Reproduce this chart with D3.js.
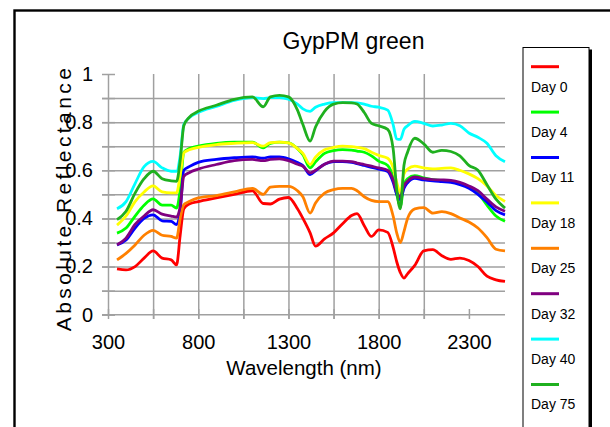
<!DOCTYPE html>
<html>
<head>
<meta charset="utf-8">
<script src="https://cdn.jsdelivr.net/npm/d3@7"></script>
<style>
  body { margin: 0; background: #fff; }
  svg { display: block; font-family: "Liberation Sans", Arial, sans-serif; }
</style>
</head>
<body>
<svg id="chart" width="610" height="427"></svg>
<script>
// Wavelengths (nm) shared by all series
var wavelengths = [350, 400, 450, 500, 550, 600, 650, 680, 700, 720,
    750, 800, 900, 1000, 1100, 1160, 1200, 1250, 1300, 1350,
    1380, 1420, 1450, 1500, 1550, 1600, 1650, 1680, 1720, 1760,
    1800, 1850, 1880, 1900, 1920, 1940, 1960, 2000, 2050, 2100,
    2150, 2200, 2250, 2300, 2350, 2400, 2450, 2500];

// Reflectance
var day0 = [.19, .186, .20, .235, .265, .235, .228, .207, .33, .44,
    .46, .47, .485, .50, .515, .462, .46, .48, .487, .44,
    .40, .34, .285, .315, .34, .378, .412, .42, .37, .325,
    .352, .342, .28, .22, .175, .152, .17, .205, .265, .27,
    .245, .23, .235, .225, .20, .16, .145, .138];
var day4 = [.339, .36, .41, .455, .481, .455, .455, .443, .52, .675,
    .69, .70, .712, .717, .717, .693, .712, .717, .714, .69,
    .665, .61, .635, .67, .682, .686, .684, .68, .675, .66,
    .638, .62, .57, .50, .45, .54, .565, .578, .568, .561,
    .558, .554, .545, .53, .505, .455, .41, .388];
var day11 = [.29, .31, .36, .40, .415, .39, .388, .374, .43, .60,
    .615, .633, .645, .652, .656, .65, .656, .656, .648, .632,
    .62, .582, .598, .625, .636, .636, .633, .628, .62, .612,
    .605, .595, .55, .50, .478, .525, .548, .566, .56, .556,
    .553, .55, .54, .525, .50, .468, .432, .415];
var day18 = [.372, .41, .47, .51, .535, .51, .506, .506, .58, .672,
    .685, .695, .707, .712, .715, .70, .715, .717, .714, .69,
    .67, .624, .655, .685, .695, .70, .698, .695, .69, .675,
    .662, .65, .61, .55, .506, .585, .605, .617, .61, .606,
    .608, .61, .60, .585, .565, .535, .495, .47];
var day25 = [.228, .255, .29, .33, .35, .33, .325, .318, .40, .457,
    .47, .485, .495, .51, .525, .50, .53, .533, .533, .515,
    .49, .422, .464, .505, .52, .525, .525, .515, .49, .475,
    .47, .47, .41, .34, .30, .345, .40, .44, .445, .422,
    .428, .42, .402, .385, .36, .32, .272, .265];
var day32 = [.29, .318, .375, .41, .436, .418, .41, .406, .45, .575,
    .59, .605, .624, .64, .645, .64, .645, .647, .64, .625,
    .617, .589, .60, .625, .638, .638, .636, .63, .624, .617,
    .61, .60, .56, .51, .49, .535, .555, .572, .565, .561,
    .56, .558, .55, .535, .515, .48, .448, .43];
var day40 = [.44, .47, .545, .615, .637, .61, .596, .596, .66, .79,
    .818, .84, .865, .89, .902, .898, .902, .902, .895, .875,
    .855, .845, .862, .875, .881, .881, .881, .88, .875, .866,
    .862, .85, .79, .73, .728, .77, .785, .803, .795, .784,
    .788, .795, .785, .755, .737, .712, .66, .635];
var day75 = [.395, .43, .505, .565, .596, .565, .556, .554, .64, .785,
    .82, .845, .87, .895, .905, .864, .905, .911, .905, .85,
    .79, .721, .78, .845, .875, .881, .88, .875, .84, .795,
    .785, .77, .69, .52, .44, .62, .675, .733, .71, .675,
    .683, .678, .66, .62, .60, .54, .48, .443];

var seriesNames = ["Day 0", "Day 4", "Day 11", "Day 18", "Day 25", "Day 32", "Day 40", "Day 75"];
var seriesValues = [day0, day4, day11, day18, day25, day32, day40, day75];
var seriesColors = ["#ff0000", "#00ff00", "#0000ff", "#ffff00", "#ff8000", "#800080", "#00ffff", "#1fb01f"];

var xTicks = [300, 550, 800, 1050, 1300, 1550, 1800, 2050, 2300];
var xLabels = [300, 800, 1300, 1800, 2300];
var xGrid = [550, 800, 1050, 1300, 1550, 1800, 2050];
var yTicks = [0, 0.1, 0.2, 0.3, 0.4, 0.5, 0.6, 0.7, 0.8, 0.9, 1];
var yLabels = [0, 0.2, 0.4, 0.6, 0.8, 1];
var yGrid = [0.1, 0.2, 0.3, 0.4, 0.5, 0.6, 0.7, 0.8, 0.9];

var svg = d3.select("#chart");
var gridColor = "#a0a0a0";

// Outer chart frame (runs off the right and bottom edges)
svg.append("rect")
    .attr("x", 14.5).attr("y", 10.5)
    .attr("width", 700).attr("height", 500)
    .attr("fill", "none").attr("stroke", "#000").attr("stroke-width", 2.4);

// Scales
var x = d3.scaleLinear().domain([300, 2500]).range([108, 505]);
var y = d3.scaleLinear().domain([0, 1]).range([314.7, 74]);

// Horizontal gridlines (start at the tick stub left of the axis)
svg.append("g")
    .attr("transform", "translate(102,0)")
    .call(d3.axisLeft(y).tickValues(yGrid).tickSize(-(505 - 102)).tickFormat(""))
    .call(g => g.select(".domain").remove())
    .call(g => g.selectAll("line").attr("stroke", gridColor).attr("stroke-width", 1.5));

// Vertical gridlines (run down past the axis)
svg.append("g")
    .attr("transform", "translate(0,319)")
    .call(d3.axisBottom(x).tickValues(xGrid).tickSize(-(319 - 74)).tickFormat(""))
    .call(g => g.select(".domain").remove())
    .call(g => g.selectAll("line").attr("stroke", gridColor).attr("stroke-width", 1.5));

// Y tick marks crossing the axis
svg.append("g")
    .attr("transform", "translate(115,0)")
    .call(d3.axisLeft(y).tickValues(yTicks).tickSize(13).tickFormat(""))
    .call(g => g.select(".domain").remove())
    .call(g => g.selectAll("line").attr("stroke", gridColor).attr("stroke-width", 1.5));

// X tick marks crossing the axis
svg.append("g")
    .attr("transform", "translate(0,309)")
    .call(d3.axisBottom(x).tickValues(xTicks).tickSize(10).tickFormat(""))
    .call(g => g.select(".domain").remove())
    .call(g => g.selectAll("line").attr("stroke", gridColor).attr("stroke-width", 1.5));

// Axis lines with labels
var yAxis = svg.append("g")
    .attr("transform", "translate(108,0)")
    .call(d3.axisLeft(y).tickValues(yLabels).tickSize(0).tickSizeOuter(0).tickPadding(15)
        .tickFormat(d => String(+d.toFixed(1))));
yAxis.select(".domain").attr("stroke", gridColor).attr("stroke-width", 1.5);
yAxis.selectAll("text").attr("font-size", 20).attr("fill", "#000")
    .attr("font-family", "'Liberation Sans', Arial, sans-serif");

var xAxis = svg.append("g")
    .attr("transform", "translate(0,314.7)")
    .call(d3.axisBottom(x).tickValues(xLabels).tickSize(0).tickSizeOuter(0).tickPadding(20)
        .tickFormat(d3.format("d")));
xAxis.select(".domain").attr("stroke", gridColor).attr("stroke-width", 1.5)
    .attr("d", "M102,0H505");
xAxis.selectAll("text").attr("font-size", 20).attr("fill", "#000")
    .attr("font-family", "'Liberation Sans', Arial, sans-serif");

// Spectra
var line = d3.line()
    .x((d, i) => x(wavelengths[i]))
    .y(d => y(d))
    .curve(d3.curveMonotoneX);

svg.append("g")
    .selectAll("path")
    .data(seriesValues)
    .enter()
    .append("path")
    .attr("fill", "none")
    .attr("stroke", (d, i) => seriesColors[i])
    .attr("stroke-width", 2.8)
    .attr("stroke-linejoin", "round")
    .attr("d", line);

// Title
svg.append("text")
    .attr("x", 353.5).attr("y", 48.5)
    .attr("text-anchor", "middle")
    .attr("font-size", 23)
    .text("GypPM green");

// Axis titles
svg.append("text")
    .attr("x", 304).attr("y", 374.5)
    .attr("text-anchor", "middle")
    .attr("font-size", 20.5)
    .text("Wavelength (nm)");

svg.append("text")
    .attr("transform", "translate(71,198) rotate(-90)")
    .attr("text-anchor", "middle")
    .attr("font-size", 21)
    .attr("letter-spacing", 3.4)
    .text("Absolute Reflectance");

// Legend box with shadow
svg.append("rect")
    .attr("x", 589).attr("y", 49.5)
    .attr("width", 3).attr("height", 400)
    .attr("fill", "#000");
svg.append("rect")
    .attr("x", 523).attr("y", 47.5)
    .attr("width", 66).attr("height", 400)
    .attr("fill", "#fff").attr("stroke", "#000").attr("stroke-width", 1);

var legend = svg.append("g")
    .selectAll("g")
    .data(seriesNames)
    .enter()
    .append("g")
    .attr("transform", (d, i) => "translate(0," + (i * 45.4) + ")");

legend.append("line")
    .attr("x1", 531).attr("x2", 559)
    .attr("y1", 66.7).attr("y2", 66.7)
    .attr("stroke", (d, i) => seriesColors[i])
    .attr("stroke-width", 3);

legend.append("text")
    .attr("x", 531).attr("y", 91.5)
    .attr("font-size", 14)
    .text(d => d);
</script>
</body>
</html>
